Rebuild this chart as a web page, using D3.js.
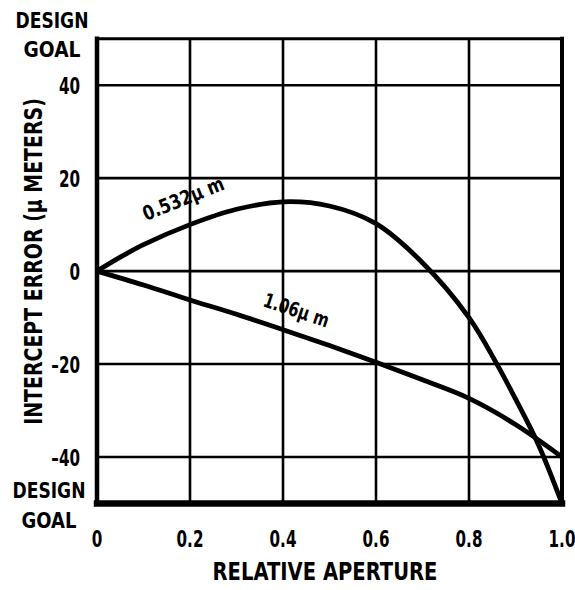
<!DOCTYPE html>
<html>
<head>
<meta charset="utf-8">
<script src="https://cdn.jsdelivr.net/npm/d3@7"></script>
<style>
  html, body { margin: 0; padding: 0; background: #fff; }
  svg text { font-family: "DejaVu Sans", sans-serif; font-weight: bold; fill: #000; }
</style>
</head>
<body>
<svg id="chart" width="575" height="590"></svg>
<script>
// Relative aperture vs. intercept error for two wavelengths
const xTicks = [0, 0.2, 0.4, 0.6, 0.8, 1.0];
const xTickLabels = ["0", "0.2", "0.4", "0.6", "0.8", "1.0"];
const yTicks = [-40, -20, 0, 20, 40];
const yTickLabels = ["\u201340", "\u201320", "0", "20", "40"];

const aperture532 = [0, 0.05, 0.1, 0.2, 0.3, 0.4, 0.5, 0.6, 0.7, 0.8, 0.86, 0.9, 0.95, 1.0];
const error532    = [0, 3.0, 5.7, 10.0, 13.3, 14.9, 14.0, 10.2, 1.8, -10.0, -20.0, -27.5, -37.5, -50.0];

const aperture106 = [0, 0.1, 0.2, 0.3, 0.4, 0.5, 0.6, 0.7, 0.8, 0.9, 1.0];
const error106    = [0, -3.0, -6.2, -9.3, -12.6, -16.0, -19.6, -23.4, -27.4, -33.0, -40.0];

const svg = d3.select("#chart");

const x = d3.scaleLinear().domain([0, 1]).range([97, 562]);
const y = d3.scaleLinear().domain([-50, 50]).range([503.5, 38.7]);

// Condensed lettering: a horizontal squeeze on each text element
function label(parent, str, tx, ty, opts) {
  const o = Object.assign({size: 23, sx: 0.68, anchor: "start", rotate: 0, width: null}, opts || {});
  const g = parent.append("g").attr("transform", `translate(${tx},${ty}) rotate(${o.rotate})`);
  const t = g.append("text").attr("font-size", o.size).attr("text-anchor", o.anchor).text(str);
  let sx = o.sx;
  if (o.width) sx = o.width / t.node().getComputedTextLength();
  t.attr("transform", `scale(${sx},1)`);
  return t;
}

// grid
const grid = svg.append("g").attr("stroke", "#000").attr("stroke-width", 2.6);
grid.selectAll("line.v").data(xTicks.slice(1, -1)).join("line")
  .attr("x1", d => x(d)).attr("x2", d => x(d))
  .attr("y1", y(50)).attr("y2", y(-50));
grid.selectAll("line.h").data(yTicks).join("line")
  .attr("x1", x(0)).attr("x2", x(1))
  .attr("y1", d => y(d)).attr("y2", d => y(d));

// frame: heavier on the left and bottom
const frame = svg.append("g").attr("stroke", "#000").attr("stroke-linecap", "square");
frame.append("line").attr("x1", x(0)).attr("x2", x(1)).attr("y1", y(50)).attr("y2", y(50)).attr("stroke-width", 3);
frame.append("line").attr("x1", x(1)).attr("x2", x(1)).attr("y1", y(50)).attr("y2", y(-50)).attr("stroke-width", 4);
frame.append("line").attr("x1", x(0)).attr("x2", x(0)).attr("y1", y(50)).attr("y2", y(-50)).attr("stroke-width", 4.5);
frame.append("line").attr("x1", x(0)).attr("x2", x(1)).attr("y1", y(-50)).attr("y2", y(-50)).attr("stroke-width", 6.5);

// curves
const line = d3.line().x(d => x(d[0])).y(d => y(d[1])).curve(d3.curveCatmullRom.alpha(0.5));
svg.append("path").datum(d3.zip(aperture532, error532))
  .attr("d", line).attr("fill", "none").attr("stroke", "#000").attr("stroke-width", 4.8);
svg.append("path").datum(d3.zip(aperture106, error106))
  .attr("d", line).attr("fill", "none").attr("stroke", "#000").attr("stroke-width", 4.8);

// curve labels
const notes = svg.append("g");
label(notes, "0.532\u00b5 m", 146, 221, {size: 20, rotate: -22, width: 86});
label(notes, "1.06\u00b5 m", 262, 306, {size: 20, rotate: 18.5, width: 68});

// y tick labels
const yl = svg.append("g");
yTicks.forEach((d, i) => label(yl, yTickLabels[i], 80, y(d) + 8.5, {anchor: "end", size: 23, sx: 0.66}));

// x tick labels
const xl = svg.append("g");
xTicks.forEach((d, i) => label(xl, xTickLabels[i], x(d), 547, {anchor: "middle", size: 23, sx: 0.66}));

// design goal markers
const goal = svg.append("g");
label(goal, "DESIGN", 52, 28, {anchor: "middle", size: 22, width: 73});
label(goal, "GOAL", 52, 57, {anchor: "middle", size: 22, width: 57});
label(goal, "DESIGN", 49, 498, {anchor: "middle", size: 22, width: 73});
label(goal, "GOAL", 49, 528, {anchor: "middle", size: 22, width: 55});

// axis titles
label(svg, "RELATIVE APERTURE", 325, 580, {anchor: "middle", size: 24, width: 225});
label(svg, "INTERCEPT ERROR (\u00b5 METERS)", 42, 261.5, {anchor: "middle", size: 24, rotate: -90, width: 327});
</script>
</body>
</html>
